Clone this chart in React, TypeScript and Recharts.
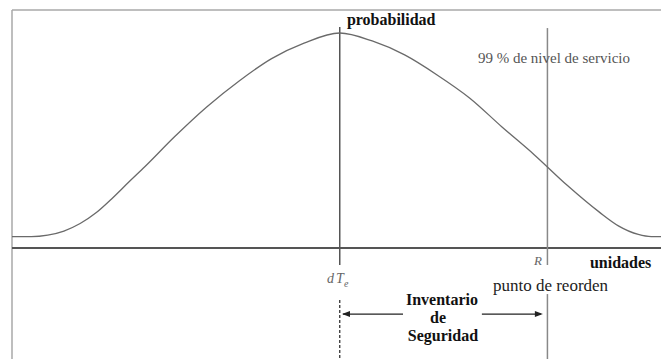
import { LineChart, Line, XAxis, YAxis, ReferenceLine, ReferenceDot } from "recharts"

// demand (unidades) and the probability curve
const units = [-1, 5, 10, 15, 20, 25, 30, 35, 40, 49, 59, 69, 79, 89, 100, 110, 120, 130, 140, 150, 160, 170, 180, 186, 192, 196, 199]
const probability = [0.053, 0.053, 0.06, 0.079, 0.114, 0.165, 0.233, 0.307, 0.379, 0.516, 0.656, 0.777, 0.881, 0.953, 1.0, 0.963, 0.898, 0.805, 0.698, 0.563, 0.433, 0.293, 0.167, 0.102, 0.063, 0.053, 0.053]

const meanDemand = 100 // dTe
const reorderPoint = 164 // R
const xDomain = [-1, 199]
const yDomain = [-0.516, 1.107]

const data = units.map((u, i) => ({ u, p: probability[i] }))

const serif = "'Liberation Serif', 'DejaVu Serif', serif"

function note(key: string, x: number, y: number, text: any, opts: any = {}) {
    const { anchor = "start", weight = "normal", italic = false, size = 16, color = "#111" } = opts
    return (
        <ReferenceDot
            key={key}
            x={x}
            y={y}
            r={0}
            ifOverflow="visible"
            shape={(p: any) => (
                <text
                    x={p.cx}
                    y={p.cy}
                    textAnchor={anchor}
                    style={{ fontFamily: serif }}
                    fontSize={size}
                    fontWeight={weight}
                    fontStyle={italic ? "italic" : "normal"}
                    fill={color}
                >
                    {text}
                </text>
            )}
        />
    )
}

function arrowHead(key: string, x: number, y: number, dir: number) {
    return (
        <ReferenceDot
            key={key}
            x={x}
            y={y}
            r={0}
            ifOverflow="visible"
            shape={(p: any) => (
                <polygon
                    points={`${p.cx},${p.cy} ${p.cx - dir * 8},${p.cy - 3} ${p.cx - dir * 8},${p.cy + 3}`}
                    fill="#222"
                />
            )}
        />
    )
}

export default function App() {
    const arrowY = -0.307
    return (
        <div style={{ position: "absolute", left: 0, top: 0, background: "#fff" }}>
            <LineChart width={661} height={359} data={data} margin={{ top: 10, right: 0, bottom: 0, left: 12 }}>
                <XAxis dataKey="u" type="number" domain={xDomain} hide allowDataOverflow />
                <YAxis type="number" domain={yDomain} hide allowDataOverflow width={0} />

                {/* frame */}
                <ReferenceLine y={yDomain[1]} stroke="#a8a8a8" strokeWidth={1.5} />
                <ReferenceLine x={xDomain[0]} stroke="#a8a8a8" strokeWidth={1.5} />

                {/* units axis */}
                <ReferenceLine y={0} stroke="#555" strokeWidth={2} />

                {/* mean demand */}
                <ReferenceLine segment={[{ x: meanDemand, y: 1.028 }, { x: meanDemand, y: -0.079 }]} stroke="#555" strokeWidth={1.5} />
                <ReferenceLine segment={[{ x: meanDemand, y: -0.242 }, { x: meanDemand, y: yDomain[0] }]} stroke="#333" strokeWidth={1.3} strokeDasharray="3 2" />

                {/* reorder point */}
                <ReferenceLine segment={[{ x: reorderPoint, y: 1.023 }, { x: reorderPoint, y: -0.079 }]} stroke="#888" strokeWidth={1.5} />
                <ReferenceLine segment={[{ x: reorderPoint, y: -0.214 }, { x: reorderPoint, y: yDomain[0] }]} stroke="#888" strokeWidth={1.5} />

                {/* safety stock arrows */}
                <ReferenceLine segment={[{ x: 101, y: arrowY }, { x: 119.5, y: arrowY }]} stroke="#222" strokeWidth={1.3} />
                <ReferenceLine segment={[{ x: 143.8, y: arrowY }, { x: 162, y: arrowY }]} stroke="#222" strokeWidth={1.3} />
                {arrowHead("al", 100.7, arrowY, -1)}
                {arrowHead("ar", 162.6, arrowY, 1)}

                <Line type="monotone" dataKey="p" stroke="#6a6a6a" strokeWidth={1.3} dot={false} isAnimationActive={false} />

                {note("prob", 102.2, 1.037, "probabilidad", { weight: "bold" })}
                {note("serv", 142.6, 0.86, "99 % de nivel de servicio", { size: 15, color: "#555" })}
                {note("uni", 177.1, -0.093, "unidades", { weight: "bold" })}
                {note("r", 159.9, -0.079, "R", { italic: true, size: 13, color: "#666" })}
                {note("dte", 96.1, -0.163, (
                    <>
                        d<tspan dx={2}>T</tspan>
                        <tspan dy={4} fontSize={10}>e</tspan>
                    </>
                ), { italic: true, size: 14, color: "#666" })}
                {note("pr", 147.2, -0.2, "punto de reorden", { size: 17, color: "#222" })}
                {note("inv", 131.5, -0.265, "Inventario", { anchor: "middle", weight: "bold" })}
                {note("de", 130.3, -0.349, "de", { anchor: "middle", weight: "bold" })}
                {note("seg", 131.8, -0.433, "Seguridad", { anchor: "middle", weight: "bold" })}
            </LineChart>
        </div>
    )
}
